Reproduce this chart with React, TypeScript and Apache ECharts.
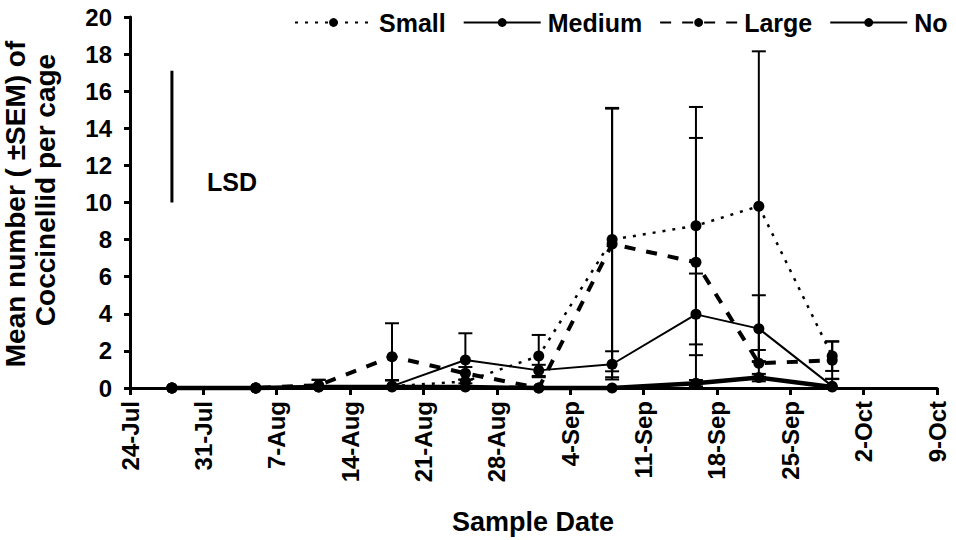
import React, { useEffect, useRef } from "react";
import * as echarts from "echarts";

// ---- data ----
const axisStart = "24-Jul";
const tickLabels = ["24-Jul", "31-Jul", "7-Aug", "14-Aug", "21-Aug", "28-Aug", "4-Sep", "11-Sep", "18-Sep", "25-Sep", "2-Oct", "9-Oct"];
const sampleDates = ["28-Jul", "5-Aug", "11-Aug", "18-Aug", "25-Aug", "1-Sep", "8-Sep", "16-Sep", "22-Sep", "29-Sep"];

const smallMean = [0, 0, 0.1, 0.1, 0.35, 1.72, 8.0, 8.75, 9.8, 1.72];
const smallSem = [0, 0, 0.33, 0.3, 0.1, 1.14, 7.1, 6.4, 8.35, 0.8];
const mediumMean = [0, 0, 0.05, 0.1, 1.51, 0.95, 1.28, 3.97, 3.2, 0.1];
const mediumSem = [0, 0, 0, 0.33, 1.44, 0.3, 0.7, 2.2, 1.8, 0.38];
const largeMean = [0, 0, 0.15, 1.69, 0.79, 0, 7.76, 6.78, 1.33, 1.5];
const largeSem = [0, 0, 0.3, 1.8, 0.34, 0, 7.3, 6.7, 0.72, 1.0];
const noMean = [0, 0, 0.05, 0.05, 0.05, 0, 0, 0.25, 0.56, 0.05];
const noSem = [0, 0, 0, 0, 0, 0, 0, 0.18, 0.2, 0];

const lsdDate = "28-Jul";
const lsdLow = 10.0;
const lsdHigh = 17.1;

const seriesNames = ["Small", "Medium", "Large", "No"];

const yTitle1 = "Mean number ( \u00B1SEM) of";
const yTitle2 = "Coccinellid per cage";
const xTitle = "Sample Date";

// ---- helpers ----
const monthIdx: Record<string, number> = { Jul: 6, Aug: 7, Sep: 8, Oct: 9 };
function toUtc(s: string) {
  const [d, m] = s.split("-");
  return Date.UTC(2000, monthIdx[m], Number(d));
}
function dayOffset(s: string) {
  return Math.round((toUtc(s) - toUtc(axisStart)) / 86400000);
}

const FONT = "'Liberation Sans', Arial, sans-serif";

export default function App() {
  const ref = useRef<HTMLDivElement>(null);

  useEffect(() => {
    if (!ref.current) return;
    const chart = echarts.init(ref.current, undefined, { renderer: "svg" });
    const xs = sampleDates.map(dayOffset);

    const lineDefs = [
      { name: "Small", mean: smallMean, sem: smallSem, width: 2.5, type: [3, 7] as any },
      { name: "Medium", mean: mediumMean, sem: mediumSem, width: 2, type: "solid" as any },
      { name: "Large", mean: largeMean, sem: largeSem, width: 4, type: [11, 11] as any },
      { name: "No", mean: noMean, sem: noSem, width: 4.5, type: "solid" as any },
    ];

    const errData: number[][] = [];
    lineDefs.forEach((s) => {
      s.mean.forEach((v, i) => {
        if (s.sem[i] > 0) errData.push([xs[i], v, s.sem[i]]);
      });
    });

    const series: any[] = [
      {
        type: "custom",
        name: "err",
        z: 1,
        silent: true,
        data: errData,
        renderItem: (params: any, api: any) => {
          const x = api.value(0);
          const m = api.value(1);
          const s = api.value(2);
          const lo = Math.max(0, m - s);
          const hi = m + s;
          const pHi = api.coord([x, hi]);
          const pLo = api.coord([x, lo]);
          const half = 7;
          const st = { stroke: "#000", lineWidth: 2 };
          const children: any[] = [
            { type: "line", shape: { x1: pHi[0], y1: pHi[1], x2: pLo[0], y2: pLo[1] }, style: st },
            { type: "line", shape: { x1: pHi[0] - half, y1: pHi[1], x2: pHi[0] + half, y2: pHi[1] }, style: st },
          ];
          if (m - s > 0) {
            children.push({ type: "line", shape: { x1: pLo[0] - half, y1: pLo[1], x2: pLo[0] + half, y2: pLo[1] }, style: st });
          }
          return { type: "group", children };
        },
      },
      ...lineDefs.map((s, k) => ({
        type: "line",
        name: s.name,
        z: 3 + k,
        data: s.mean.map((v, i) => [xs[i], v]),
        symbol: "circle",
        symbolSize: 11,
        showAllSymbol: true,
        itemStyle: { color: "#000" },
        lineStyle: { color: "#000", width: s.width, type: s.type },
        clip: false,
      })),
      {
        type: "line",
        name: "LSD",
        z: 2,
        data: [
          [dayOffset(lsdDate), lsdLow],
          [dayOffset(lsdDate), lsdHigh],
        ],
        showSymbol: false,
        symbol: "none",
        lineStyle: { color: "#000", width: 3 },
      },
    ];

    chart.setOption({
      animation: false,
      backgroundColor: "#fff",
      grid: { left: 130, right: 19, top: 17, bottom: 152, containLabel: false },
      legend: {
        data: seriesNames,
        left: 289,
        top: 5,
        width: 720,
        itemWidth: 77,
        itemHeight: 11,
        itemGap: 17,
        textStyle: { fontFamily: FONT, fontWeight: "bold", fontSize: 25, color: "#000", padding: [0, 0, 0, 2] },
        inactiveColor: "#000",
      },
      xAxis: {
        type: "value",
        min: 0,
        max: 77,
        interval: 7,
        splitLine: { show: false },
        axisLine: { show: true, onZero: false, lineStyle: { color: "#000", width: 3 } },
        axisTick: { show: true, length: 7, lineStyle: { color: "#000", width: 3 } },
        axisLabel: {
          rotate: 90,
          margin: 13,
          fontFamily: FONT,
          fontWeight: "bold",
          fontSize: 24,
          color: "#000",
          formatter: (v: number) => tickLabels[Math.round(v / 7)] ?? "",
        },
      },
      yAxis: {
        type: "value",
        min: 0,
        max: 20,
        interval: 2,
        splitLine: { show: false },
        axisLine: { show: true, lineStyle: { color: "#000", width: 3 } },
        axisTick: { show: true, length: 6, lineStyle: { color: "#000", width: 3 } },
        axisLabel: {
          margin: 18,
          fontFamily: FONT,
          fontWeight: "bold",
          fontSize: 24,
          color: "#000",
        },
      },
      graphic: [
        {
          type: "text",
          x: 15,
          y: 204,
          rotation: Math.PI / 2,
          style: { text: yTitle1, font: `bold 28px ${FONT}`, fill: "#000", align: "center", verticalAlign: "middle" },
        },
        {
          type: "text",
          x: 45,
          y: 190,
          rotation: Math.PI / 2,
          style: { text: yTitle2, font: `bold 28px ${FONT}`, fill: "#000", align: "center", verticalAlign: "middle" },
        },
        {
          type: "text",
          x: 533,
          y: 522,
          style: { text: xTitle, font: `bold 27px ${FONT}`, fill: "#000", align: "center", verticalAlign: "middle" },
        },
        {
          type: "text",
          x: 207,
          y: 182,
          style: { text: "LSD", font: `bold 25px ${FONT}`, fill: "#000", align: "left", verticalAlign: "middle" },
        },
      ],
      series,
    });

    return () => chart.dispose();
  }, []);

  return <div ref={ref} style={{ position: "absolute", left: 0, top: 0, width: 956, height: 540 }} />;
}
